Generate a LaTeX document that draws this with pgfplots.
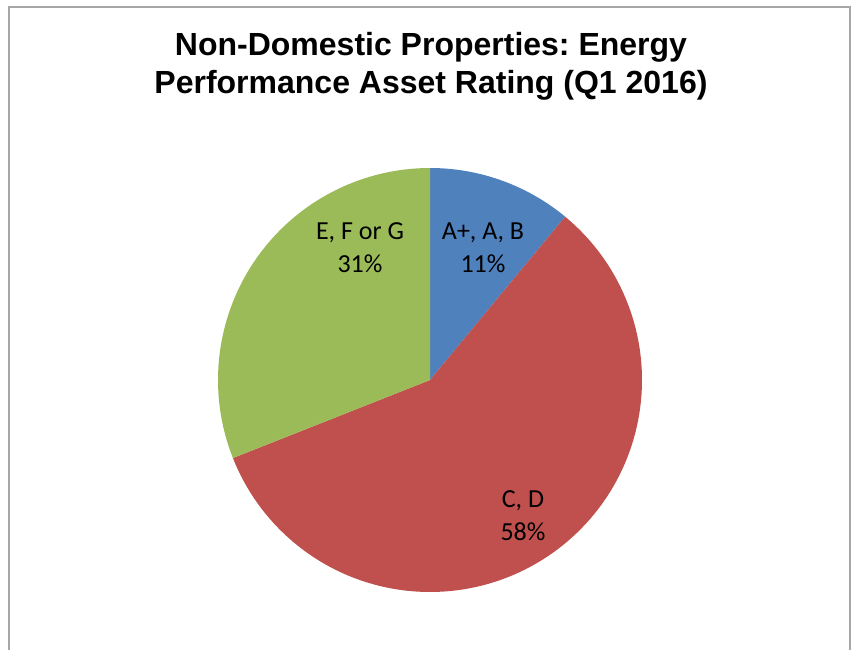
\documentclass[border=0pt]{standalone}
\usepackage{pgfplots}
\pgfplotsset{compat=1.18}
\usepackage{fontspec}
\setmainfont{Carlito}
\newfontfamily\titlefont{Liberation Sans}
\definecolor{pieblue}{HTML}{4F81BD}
\definecolor{piered}{HTML}{C0504D}
\definecolor{piegreen}{HTML}{9BBB59}
\definecolor{framegray}{HTML}{A6A6A6}
% shares (percent), clockwise from 12 o'clock
\def\vA{11}
\def\vB{58}
\def\vC{31}
\pgfmathsetmacro\aA{90}
\pgfmathsetmacro\aB{\aA-3.6*\vA}
\pgfmathsetmacro\aC{\aB-3.6*\vB}
\pgfmathsetmacro\aD{\aC-3.6*\vC}
\begin{document}
\frenchspacing
\begin{tikzpicture}[x=0.5pt,y=0.5pt]
\useasboundingbox (0,0) rectangle (854,649);
\fill[white] (0,0) rectangle (854,649);
\begin{scope}
\clip (0,0) rectangle (854,649);
\draw[framegray, line width=1pt] (9,642) rectangle (850,-30);
\end{scope}
\node[font=\titlefont\bfseries\fontsize{16}{19}\selectfont, anchor=base] at (431,593) {Non-Domestic Properties: Energy};
\node[font=\titlefont\bfseries\fontsize{16}{19}\selectfont, anchor=base] at (431,555) {Performance Asset Rating (Q1 2016)};
\begin{axis}[
  at={(215pt,134.5pt)}, anchor=center,
  scale only axis, width=212pt, height=212pt,
  xmin=-1, xmax=1, ymin=-1, ymax=1,
  hide axis, clip=false,
]
\addplot[fill=pieblue, draw=none, domain=\aB:\aA, samples=40] ({cos(x)},{sin(x)}) -- (axis cs:0,0) -- cycle;
\addplot[fill=piered, draw=none, domain=\aC:\aB, samples=120] ({cos(x)},{sin(x)}) -- (axis cs:0,0) -- cycle;
\addplot[fill=piegreen, draw=none, domain=\aD:\aC, samples=80] ({cos(x)},{sin(x)}) -- (axis cs:0,0) -- cycle;
\end{axis}
\begin{scope}[font=\fontsize{13}{16.5}\selectfont]
\node[anchor=base] at (483,410) {A+, A, B};
\node[anchor=base] at (483,377) {\vA\%};
\node[anchor=base] at (360,410) {E, F or G};
\node[anchor=base] at (360,377) {\vC\%};
\node[anchor=base] at (523,142) {C, D};
\node[anchor=base] at (523,109) {\vB\%};
\end{scope}
\end{tikzpicture}
\end{document}
